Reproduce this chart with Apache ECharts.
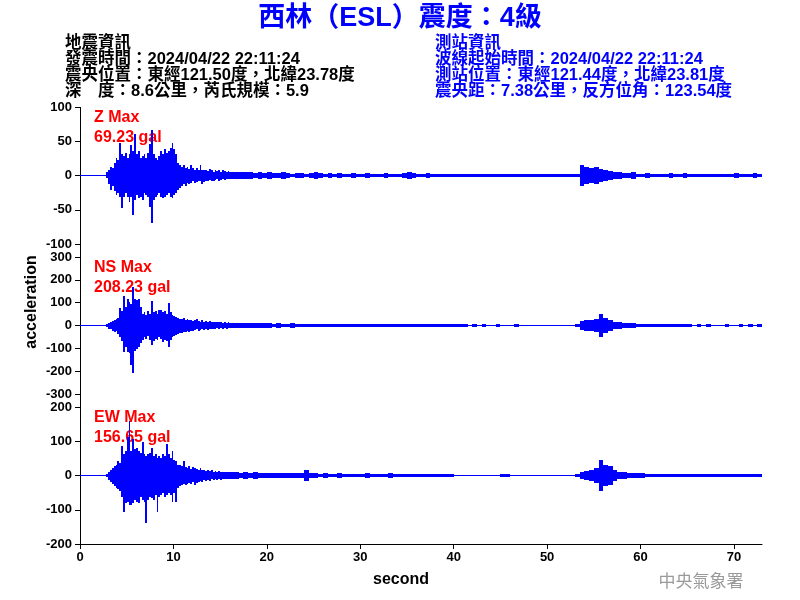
<!DOCTYPE html>
<html><head><meta charset="utf-8">
<script src="https://cdn.jsdelivr.net/npm/echarts/dist/echarts.min.js"></script>
<style>html,body{margin:0;padding:0;background:#fff}#c{width:800px;height:600px}</style>
</head><body><div id="c"></div>
<script>
// ---------- data ----------
const xTicks = [0, 10, 20, 30, 40, 50, 60, 70];
const xMax = 73;
const componentNames = ['Z', 'NS', 'EW'];
const peakGal = ['69.23', '208.23', '156.65'];
const yLimits = [100, 300, 200];
const yIntervals = [50, 100, 100];

// strong-motion part: envelope (high / low) per 0.2 s bin, from 2.8 s to 16.0 s
const fineStart = 2.8, fineStep = 0.2;
const zFineHigh = [5,
  7, 12, 10, 18, 25,
  22, 47, 30, 28, 32,
  25, 30, 44, 35, 60,
  30, 35, 25, 28, 30,
  25, 32, 45, 65, 30,
  25, 22, 28, 35, 30,
  38, 32, 35, 40, 46,
  38, 30, 18, 15, 12,
  15, 10, 12, 9, 14,
  10, 8, 10, 7, 15,
  8, 7, 8, 6, 9,
  7, 5, 8, 6, 7,
  5, 8, 6, 5, 6];
const zFineLow = [-3,
  -12, -20, -15, -22, -28,
  -25, -30, -47, -30, -25,
  -30, -38, -30, -57, -35,
  -28, -32, -30, -35, -25,
  -28, -30, -45, -69, -35,
  -30, -28, -25, -30, -32,
  -30, -28, -25, -30, -32,
  -28, -25, -20, -18, -15,
  -12, -14, -10, -12, -10,
  -8, -10, -9, -8, -8,
  -12, -9, -7, -8, -6,
  -7, -8, -6, -5, -7,
  -6, -5, -6, -5, -4];
const nsFineHigh = [3,
  10, 15, 18, 22, 25,
  30, 75, 60, 127, 80,
  112, 100, 90, 168, 112,
  110, 112, 80, 50, 55,
  45, 60, 50, 104, 55,
  60, 50, 65, 67, 55,
  60, 50, 97, 55, 45,
  40, 35, 30, 28, 25,
  30, 22, 25, 20, 22,
  18, 20, 25, 18, 15,
  20, 15, 18, 14, 16,
  13, 15, 12, 14, 11,
  12, 10, 14, 10, 12];
const nsFineLow = [-3,
  -12, -15, -20, -25, -22,
  -35, -50, -67, -112, -90,
  -112, -120, -172, -208, -110,
  -100, -90, -75, -60, -50,
  -55, -45, -60, -82, -65,
  -55, -60, -50, -55, -70,
  -60, -65, -90, -60, -50,
  -45, -40, -35, -30, -30,
  -25, -28, -22, -25, -20,
  -22, -18, -15, -20, -18,
  -15, -18, -14, -16, -12,
  -15, -12, -14, -10, -13,
  -10, -12, -10, -11, -9];
const ewFineHigh = [3,
  10, 15, 20, 25, 30,
  40, 35, 85, 60, 70,
  110, 157, 70, 105, 75,
  80, 70, 65, 95, 60,
  55, 60, 65, 80, 55,
  60, 50, 55, 50, 60,
  55, 90, 60, 50, 70,
  45, 40, 30, 28, 25,
  40, 22, 20, 25, 18,
  22, 20, 18, 15, 20,
  14, 16, 12, 14, 12,
  15, 10, 12, 10, 11,
  9, 10, 8, 9, 8];
const ewFineLow = [-3,
  -12, -18, -22, -30, -35,
  -38, -45, -60, -105, -80,
  -75, -85, -85, -80, -70,
  -75, -80, -60, -70, -75,
  -138, -70, -60, -65, -70,
  -55, -105, -60, -55, -50,
  -60, -55, -50, -55, -75,
  -50, -75, -35, -30, -25,
  -22, -25, -22, -20, -22,
  -18, -25, -20, -18, -15,
  -18, -12, -15, -12, -14,
  -10, -12, -10, -12, -9,
  -11, -9, -10, -8, -9];

// coda part: amplitude per 0.5 s bin, from 16.0 s to 73.0 s
const tailStart = 16.0, tailStep = 0.5;
const zTail = [
  5, 5, 4, 5, 4, 3, 4, 3, 4, 3,
  3, 4, 3, 2, 3, 3, 2, 3, 4, 3,
  2, 3, 2, 3, 2, 2, 3, 2, 2, 3,
  2, 2, 2, 3, 2, 2, 2, 3, 4, 3,
  2, 2, 3, 2, 2, 2, 1, 2, 2, 1,
  1, 1, 2, 1, 1, 1, 1, 2, 1, 1,
  1, 1, 1, 2, 1, 1, 1, 1, 1, 1,
  1, 2, 1, 1, 1, 15, 12, 10, 11, 9,
  8, 6, 5, 4, 3, 3, 4, 2, 2, 3,
  2, 2, 2, 2, 3, 2, 2, 3, 2, 2,
  1, 2, 2, 2, 1, 2, 2, 2, 3, 2,
  2, 2, 3, 2];
const nsTail = [
  10, 9, 10, 8, 9, 8, 7, 8, 7, 6,
  7, 6, 6, 7, 5, 6, 5, 6, 5, 5,
  4, 5, 4, 5, 4, 4, 5, 4, 4, 4,
  5, 4, 3, 4, 4, 3, 4, 3, 5, 4,
  3, 3, 4, 3, 3, 3, 4, 3, 3, 3,
  3, 2, 3, 2, 3, 2, 2, 3, 2, 2,
  2, 3, 2, 2, 2, 2, 2, 2, 2, 2,
  2, 2, 2, 2, 3, 18, 22, 20, 28, 48,
  30, 22, 15, 12, 10, 8, 7, 6, 5, 5,
  4, 5, 4, 3, 4, 3, 3, 3, 3, 2,
  3, 2, 3, 2, 2, 2, 3, 2, 2, 3,
  2, 3, 2, 3];
const ewTail = [
  8, 9, 7, 8, 7, 8, 6, 7, 6, 7,
  6, 5, 6, 5, 6, 6, 15, 5, 5, 4,
  5, 4, 4, 5, 4, 3, 4, 3, 4, 5,
  4, 3, 3, 4, 5, 4, 3, 3, 3, 4,
  3, 3, 4, 3, 3, 3, 2, 3, 1, 1,
  1, 1, 1, 1, 1, 1, 1, 1, 2, 2,
  1, 1, 1, 1, 1, 1, 1, 1, 1, 1,
  1, 1, 1, 1, 2, 10, 12, 14, 20, 45,
  30, 25, 15, 10, 8, 7, 6, 5, 5, 4,
  4, 3, 4, 3, 3, 3, 2, 3, 2, 2,
  3, 2, 2, 3, 2, 2, 3, 2, 2, 2,
  3, 2, 2, 2];

// ---------- build min/max columns [t0, t1, low, high] ----------
function buildColumns(hi, lo, tail) {
  const cols = [[0, xMax, 0, 0]];           // zero baseline of the trace
  for (let i = 0; i < hi.length; i++) {
    const t0 = +(fineStart + i * fineStep).toFixed(3);
    cols.push([t0, +(t0 + fineStep).toFixed(3), lo[i], hi[i]]);
  }
  for (let j = 0; j < tail.length; j++) {
    const t0 = +(tailStart + j * tailStep).toFixed(3);
    cols.push([t0, Math.min(xMax, +(t0 + tailStep).toFixed(3)), -tail[j], tail[j]]);
  }
  return cols;
}
const columns = [
  buildColumns(zFineHigh, zFineLow, zTail),
  buildColumns(nsFineHigh, nsFineLow, nsTail),
  buildColumns(ewFineHigh, ewFineLow, ewTail)
];

function renderColumn(params, api) {
  const a = api.coord([api.value(0), api.value(3)]);
  const b = api.coord([api.value(1), api.value(2)]);
  const x = Math.round(a[0]);
  const w = Math.max(1, Math.round(b[0]) - x);
  const y = Math.floor(a[1]);
  const h = Math.max(1, Math.ceil(b[1]) - y);
  return {type: 'rect', shape: {x: x, y: y, width: w, height: h},
    style: {fill: '#0000ff'}};
}

// ---------- chart ----------
const LAT = '"Liberation Sans", Arial, "Noto Sans CJK TC", sans-serif';
const gridTops = [107, 257, 407];
const gridH = 137;
const chart = echarts.init(document.getElementById('c'), null, {renderer: 'canvas'});

const grids = [], xAxes = [], yAxes = [], series = [], graphics = [];
for (let k = 0; k < 3; k++) {
  grids.push({left: 80, width: 682, top: gridTops[k], height: gridH, containLabel: false});
  const isBottom = k === 2;
  xAxes.push({
    gridIndex: k, type: 'value', min: 0, max: xMax, interval: 10,
    show: true,
    axisLine: {show: isBottom, onZero: false, lineStyle: {color: '#000', width: 1}},
    axisTick: {show: isBottom, length: 5, customValues: xTicks, lineStyle: {color: '#000'}},
    axisLabel: {show: isBottom, margin: 7, color: '#000', fontSize: 13, fontWeight: 'bold', fontFamily: LAT,
      customValues: xTicks},
    splitLine: {show: false}
  });
  yAxes.push({
    gridIndex: k, type: 'value', min: -yLimits[k], max: yLimits[k], interval: yIntervals[k],
    axisLine: {show: false},
    axisTick: {show: true, length: 5, lineStyle: {color: '#000'}},
    axisLabel: {show: true, margin: 8, color: '#000', fontSize: 13, fontWeight: 'bold', fontFamily: LAT},
    splitLine: {show: false}
  });
  series.push({
    type: 'custom', xAxisIndex: k, yAxisIndex: k, data: columns[k],
    dimensions: ['t0', 't1', 'low', 'high'],
    encode: {x: [0, 1], y: [2, 3]},
    renderItem: renderColumn, animation: false, silent: true, clip: true
  });
  graphics.push({type: 'text', left: 94, top: gridTops[k] + 3,
    style: {text: componentNames[k] + ' Max', fill: '#ff0000', font: 'bold 16px ' + LAT}});
  graphics.push({type: 'text', left: 94, top: gridTops[k] + 23,
    style: {text: peakGal[k] + ' gal', fill: '#ff0000', font: 'bold 16px ' + LAT}});
}

// continuous left axis line
graphics.push({type: 'line', shape: {x1: 80.5, y1: gridTops[0], x2: 80.5, y2: gridTops[2] + gridH},
  style: {stroke: '#000', lineWidth: 1}});

// titles and info blocks
graphics.push({type: 'text', x: 400, y: 19,
  style: {text: '西林（ESL）震度：4級', fill: '#0000ff', font: 'bold 27px ' + LAT,
    textAlign: 'center', textVerticalAlign: 'middle'}});
const leftInfo = ['地震資訊', '發震時間：2024/04/22 22:11:24', '震央位置：東經121.50度，北緯23.78度', '深　度：8.6公里，芮氏規模：5.9'];
const rightInfo = ['測站資訊', '波線起始時間：2024/04/22 22:11:24', '測站位置：東經121.44度，北緯23.81度', '震央距：7.38公里，反方位角：123.54度'];
leftInfo.forEach((s, i) => graphics.push({type: 'text', x: 65, y: 43 + i * 16,
  style: {text: s, fill: '#000', font: 'bold 16.5px ' + LAT, textVerticalAlign: 'middle'}}));
rightInfo.forEach((s, i) => graphics.push({type: 'text', x: 435, y: 43 + i * 16,
  style: {text: s, fill: '#0000ff', font: 'bold 16.5px ' + LAT, textVerticalAlign: 'middle'}}));

graphics.push({type: 'text', x: 32, y: 302, rotation: Math.PI / 2,
  style: {text: 'acceleration', fill: '#000', font: 'bold 16px ' + LAT, textAlign: 'center', textVerticalAlign: 'middle'}});
graphics.push({type: 'text', x: 401, y: 580,
  style: {text: 'second', fill: '#000', font: 'bold 16px ' + LAT, textAlign: 'center', textVerticalAlign: 'middle'}});
graphics.push({type: 'text', x: 701, y: 581,
  style: {text: '中央氣象署', fill: '#9a9a9a', font: '17px "Noto Sans CJK TC", sans-serif', textAlign: 'center', textVerticalAlign: 'middle'}});

chart.setOption({
  animation: false,
  backgroundColor: '#ffffff',
  grid: grids, xAxis: xAxes, yAxis: yAxes, series: series, graphic: graphics
});
</script></body></html>
